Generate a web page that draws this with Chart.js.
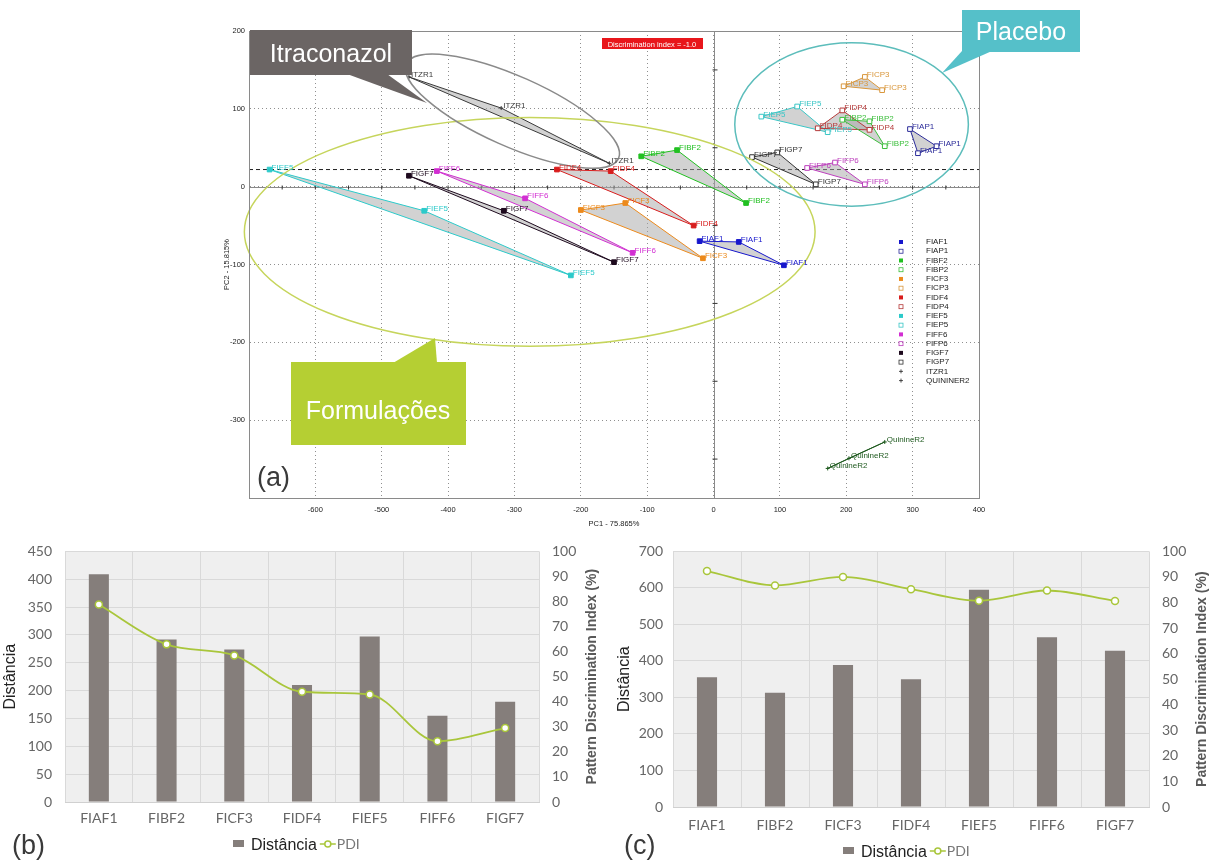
<!DOCTYPE html>
<html>
<head>
<meta charset="utf-8">
<script src="https://cdn.jsdelivr.net/npm/chart.js@4.4.1/dist/chart.umd.min.js"></script>
<style>
  body { margin: 0; background: #fff; width: 1219px; height: 861px; position: relative; overflow: hidden;
         font-family: "Liberation Sans", Arial, sans-serif; }
  canvas { position: absolute; }
  #pca { left: 200px; top: 0; }
  #distB { left: 0; top: 530px; }
  #distC { left: 610px; top: 530px; }
  #callouts { position: absolute; left: 0; top: 0; }
  .panel { position: absolute; font-size: 27px; line-height: 27px; color: #3a3a3a; }
</style>
</head>
<body>
<canvas id="pca" width="800" height="530"></canvas>
<canvas id="distB" width="610" height="331"></canvas>
<canvas id="distC" width="609" height="331"></canvas>

<svg id="callouts" width="1219" height="530" font-family="Liberation Sans, Arial, sans-serif">
  <!-- Itraconazol -->
  <polygon points="347,74 387,74 427,103" fill="#6b6564"/>
  <rect x="250" y="30" width="162" height="45" fill="#6b6564"/>
  <text x="331" y="62" fill="#fff" font-size="25" text-anchor="middle">Itraconazol</text>
  <!-- Placebo -->
  <polygon points="962,51 992,51 942,73" fill="#55c0c9"/>
  <rect x="962" y="10" width="118" height="42" fill="#55c0c9"/>
  <text x="1021" y="40" fill="#fff" font-size="25" text-anchor="middle">Placebo</text>
  <!-- Formulações -->
  <polygon points="393,363 437,363 435,338" fill="#b5cf33"/>
  <rect x="291" y="362" width="175" height="83" fill="#b5cf33"/>
  <text x="378" y="419" fill="#fff" font-size="25" text-anchor="middle">Formulações</text>
  <!-- discrimination index tag -->
  <rect x="602" y="38" width="101" height="11" fill="#e8161b"/>
  <text x="652" y="46.5" fill="#fff" font-size="7.5" text-anchor="middle">Discrimination index = -1.0</text>
</svg>

<div class="panel" style="left:257px;top:464px">(a)</div>
<div class="panel" style="left:12px;top:832px">(b)</div>
<div class="panel" style="left:624px;top:832px">(c)</div>

<script>
// ---------- (a) PCA scores ----------
const seriesNames = ['FIAF1', 'FIAP1', 'FIBF2', 'FIBP2', 'FICF3', 'FICP3', 'FIDF4', 'FIDP4',
                     'FIEF5', 'FIEP5', 'FIFF6', 'FIFP6', 'FIGF7', 'FIGP7', 'ITZR1', 'QUININER2'];
const pointNames = ['FIAF1', 'FIAP1', 'FIBF2', 'FIBP2', 'FICF3', 'FICP3', 'FIDF4', 'FIDP4',
                    'FIEF5', 'FIEP5', 'FIFF6', 'FIFP6', 'FIGF7', 'FIGP7', 'ITZR1', 'QuinineR2'];
const pc1Values = [
    [-21, 38, 106], [296, 336, 308], [-109, -55, 49], [194, 235, 258],
    [-200, -133, -16], [196, 228, 254], [-236, -155, -30], [157, 194, 235],
    [-669, -436, -215], [72, 126, 172], [-417, -284, -122], [141, 183, 228],
    [-459, -316, -150], [58, 96, 154], [-459, -320, -157], [258, 204, 172]
];
const pc2Values = [
    [-70, -71, -101], [74, 52, 43], [39, 47, -21], [86, 84, 52],
    [-30, -21, -92], [129, 141, 124], [22, 20, -50], [75, 98, 73],
    [22, -31, -114], [90, 103, 70], [20, -15, -85], [24, 31, 3],
    [14, -31, -97], [38, 44, 3], [141, 101, 30], [-328, -349, -362]
];
const seriesColors = ['#1616cc', '#2b2b99', '#22c022', '#3cbf3c', '#ec8a1c', '#d9973c', '#d81c1c', '#b53a3a',
                      '#2ccaca', '#3ac6c6', '#d22ed2', '#bd3fbd', '#1e0a1e', '#333333', '#3a3a3a', '#1f5a1f'];
const discriminationLine = 22;

// ---------- (b) and (c) ----------
const formulations = ['FIAF1', 'FIBF2', 'FICF3', 'FIDF4', 'FIEF5', 'FIFF6', 'FIGF7'];
const distanceB = [409, 292, 274, 210, 297, 155, 180];
const pdiB = [78.8, 62.9, 58.5, 44, 42.9, 24.2, 29.5];
const distanceC = [355, 313, 389, 350, 595, 465, 428];
const pdiC = [92.3, 86.7, 90, 85.2, 80.7, 84.7, 80.6];

function markerKind(name) {
    if (!name.startsWith('FI')) return 'cross';
    return name[3] === 'P' ? 'open' : 'filled';
}

const pcaDatasets = seriesNames.map((name, i) => {
    const pts = pc1Values[i].map((x, j) => ({ x: x, y: pc2Values[i][j] }));
    pts.push(pts[0]);
    const kind = markerKind(name);
    const color = seriesColors[i];
    return {
        label: name,
        data: pts,
        showLine: true,
        borderColor: color,
        borderWidth: 1,
        pointStyle: kind === 'cross' ? 'cross' : 'rect',
        pointRadius: ctx => ctx.dataIndex === 3 ? 0 : (kind === 'cross' ? 2 : 3.3),
        pointBorderWidth: 1,
        pointBorderColor: color,
        pointBackgroundColor: kind === 'open' ? '#ffffff' : color,
        backgroundColor: color,
        fill: false
    };
});

const ellipses = [
    { cx: -277, cy: -58, rx: 430, ry: 147, angle: 0, color: '#c6d55c' },
    { cx: 208, cy: 80, rx: 176, ry: 105, angle: 0, color: '#5cbdbb' },
    { cx: -303, cy: 97, rx: 175, ry: 45, angle: 24, color: '#8a8a8a' }
];

const pcaDecor = {
    id: 'pcaDecor',
    beforeDatasetsDraw(chart) {
        const { ctx, chartArea: a, scales: { x, y } } = chart;
        ctx.save();
        const x0 = Math.round(x.getPixelForValue(0)) + 0.5;
        const y0 = Math.round(y.getPixelForValue(0)) + 0.5;
        ctx.strokeStyle = '#8a8a8a';
        ctx.lineWidth = 1;
        ctx.beginPath();
        ctx.moveTo(x0, a.top); ctx.lineTo(x0, a.bottom);
        ctx.moveTo(a.left, y0); ctx.lineTo(a.right, y0);
        ctx.stroke();
        // small ticks on the zero axes
        ctx.strokeStyle = '#333';
        ctx.beginPath();
        for (let v = -350; v <= 150; v += 100) {
            const py = y.getPixelForValue(v);
            ctx.moveTo(x0 - 2, py); ctx.lineTo(x0 + 3, py);
        }
        for (let v = -650; v <= 350; v += 50) {
            if (v === 0) continue;
            const px = x.getPixelForValue(v);
            ctx.moveTo(px, y0 - 2); ctx.lineTo(px, y0 + 2);
        }
        ctx.stroke();
        // threshold line
        const yd = y.getPixelForValue(discriminationLine);
        ctx.setLineDash([4, 3]);
        ctx.strokeStyle = '#222';
        ctx.beginPath();
        ctx.moveTo(a.left, yd); ctx.lineTo(a.right, yd);
        ctx.stroke();
        ctx.setLineDash([]);
        // triangle fills
        chart.data.datasets.forEach((ds, i) => {
            const pts = chart.getDatasetMeta(i).data.slice(0, 3);
            ctx.beginPath();
            pts.forEach((p, k) => k ? ctx.lineTo(p.x, p.y) : ctx.moveTo(p.x, p.y));
            ctx.closePath();
            ctx.fillStyle = 'rgba(165,165,165,0.5)';
            ctx.fill();
        });
        ctx.restore();
    },
    afterDatasetsDraw(chart) {
        const { ctx, chartArea: a, scales: { x, y } } = chart;
        ctx.save();
        // group ellipses
        ellipses.forEach(e => {
            const cx = x.getPixelForValue(e.cx), cy = y.getPixelForValue(e.cy);
            const rx = Math.abs(x.getPixelForValue(e.cx + e.rx) - cx);
            const ry = Math.abs(y.getPixelForValue(e.cy + e.ry) - cy);
            ctx.beginPath();
            ctx.ellipse(cx, cy, rx, ry, e.angle * Math.PI / 180, 0, Math.PI * 2);
            ctx.strokeStyle = e.color;
            ctx.lineWidth = 1.5;
            ctx.stroke();
        });
        // point labels
        ctx.font = '8px "Liberation Sans", Arial, sans-serif';
        ctx.textAlign = 'left';
        ctx.textBaseline = 'alphabetic';
        chart.data.datasets.forEach((ds, i) => {
            ctx.fillStyle = seriesColors[i];
            chart.getDatasetMeta(i).data.slice(0, 3).forEach(p => {
                ctx.fillText(pointNames[i], p.x + 2, p.y);
            });
        });
        // frame
        ctx.strokeStyle = '#8a8a8a';
        ctx.lineWidth = 1;
        ctx.strokeRect(Math.round(a.left) + 0.5, Math.round(a.top) + 0.5,
                       Math.round(a.width), Math.round(a.height));
        // legend
        const lx = a.right - 78, ly = a.top + 211, step = 9.24;
        ctx.textBaseline = 'middle';
        ctx.font = '8px "Liberation Sans", Arial, sans-serif';
        chart.data.datasets.forEach((ds, i) => {
            const yy = ly + i * step;
            const kind = markerKind(ds.label);
            const c = seriesColors[i];
            if (kind === 'filled') {
                ctx.fillStyle = c;
                ctx.fillRect(lx - 2, yy - 2, 4, 4);
            } else if (kind === 'open') {
                ctx.strokeStyle = c;
                ctx.lineWidth = 0.8;
                ctx.strokeRect(lx - 2, yy - 2, 4, 4);
            } else {
                ctx.strokeStyle = '#222';
                ctx.lineWidth = 0.8;
                ctx.beginPath();
                ctx.moveTo(lx - 2, yy); ctx.lineTo(lx + 2, yy);
                ctx.moveTo(lx, yy - 2); ctx.lineTo(lx, yy + 2);
                ctx.stroke();
            }
            ctx.fillStyle = '#222';
            ctx.fillText(ds.label, lx + 25, yy);
        });
        ctx.restore();
    }
};

const smallFont = { family: '"Liberation Sans", Arial, sans-serif', size: 7.5 };

new Chart(document.getElementById('pca'), {
    type: 'scatter',
    data: { datasets: pcaDatasets },
    options: {
        responsive: false,
        animation: false,
        layout: { padding: { left: 15, right: 21, top: 31, bottom: 0 } },
        plugins: { legend: { display: false }, tooltip: { enabled: false } },
        scales: {
            x: {
                type: 'linear', min: -700, max: 400,
                ticks: { stepSize: 100, autoSkip: false, maxRotation: 0, padding: 7, color: '#222', font: smallFont,
                         callback: v => v === -700 ? '' : v },
                grid: { color: '#8f8f8f', drawTicks: false },
                border: { color: '#8a8a8a', dash: [1, 3] },
                title: { display: true, text: 'PC1 - 75.865%', color: '#222', font: smallFont,
                         padding: { top: 0, bottom: 2 } },
                afterFit: s => { s.height = 32; }
            },
            y: {
                type: 'linear', min: -400, max: 200,
                ticks: { stepSize: 100, padding: 4, color: '#222', font: smallFont,
                         callback: v => v === -400 ? '' : v },
                grid: { color: '#8f8f8f', drawTicks: false },
                border: { color: '#8a8a8a', dash: [1, 3] },
                title: { display: true, text: 'PC2 - 15.815%', color: '#222', font: smallFont,
                         padding: { top: 7, bottom: 0 } },
                afterFit: s => { s.width = 34; }
            }
        }
    },
    plugins: [pcaDecor]
});

// ---------- bar + line panels ----------
const tickFont = { family: 'Lato, "Open Sans", sans-serif', size: 14 };
const barColor = '#857e7b';
const pdiColor = '#a9c63b';

function distancePanel(canvasId, distances, pdis, yMax, geo) {
    const decor = {
        id: 'panelDecor' + canvasId,
        beforeDraw(chart) {
            const { ctx, chartArea: a } = chart;
            ctx.save();
            ctx.fillStyle = '#efefef';
            ctx.fillRect(a.left, a.top, a.width, a.height);
            ctx.restore();
        },
        afterDraw(chart) {
            const { ctx, chartArea: a } = chart;
            ctx.save();
            // right axis title
            ctx.translate(geo.rightTitleX, (a.top + a.bottom) / 2);
            ctx.rotate(-Math.PI / 2);
            ctx.font = 'bold 14px "Liberation Sans", Arial, sans-serif';
            ctx.fillStyle = '#595959';
            ctx.textAlign = 'center';
            ctx.textBaseline = 'middle';
            ctx.fillText('Pattern Discrimination Index (%)', 0, 0);
            ctx.restore();
            // legend
            ctx.save();
            const lx = geo.legendX, ly = geo.legendY;
            ctx.fillStyle = barColor;
            ctx.fillRect(lx, ly - 4, 11, 7);
            ctx.font = '16px "Liberation Sans", Arial, sans-serif';
            ctx.fillStyle = '#222';
            ctx.textBaseline = 'middle';
            ctx.fillText('Distância', lx + 18, ly + 2);
            const mx = lx + 18 + ctx.measureText('Distância').width + 3;
            ctx.strokeStyle = pdiColor;
            ctx.lineWidth = 1.5;
            ctx.beginPath();
            ctx.moveTo(mx, ly); ctx.lineTo(mx + 16, ly);
            ctx.stroke();
            ctx.beginPath();
            ctx.arc(mx + 8, ly, 3, 0, Math.PI * 2);
            ctx.fillStyle = '#fff';
            ctx.fill();
            ctx.stroke();
            ctx.font = '14px Lato, "Open Sans", sans-serif';
            ctx.fillStyle = '#777';
            ctx.fillText('PDI', mx + 17, ly);
            ctx.restore();
        }
    };

    new Chart(document.getElementById(canvasId), {
        type: 'bar',
        data: {
            labels: formulations,
            datasets: [
                {
                    type: 'line', label: 'PDI', data: pdis, yAxisID: 'y1', order: 0,
                    borderColor: pdiColor, borderWidth: 1.8, cubicInterpolationMode: 'monotone',
                    pointRadius: 3.5, pointBorderWidth: 1.5, pointBackgroundColor: '#fff',
                    pointBorderColor: pdiColor, fill: false
                },
                {
                    type: 'bar', label: 'Distância', data: distances, yAxisID: 'y', order: 1,
                    backgroundColor: barColor, categoryPercentage: 0.8, barPercentage: 0.37
                }
            ]
        },
        options: {
            responsive: false,
            animation: false,
            layout: { padding: { left: 0, right: 0, top: geo.top, bottom: 0 } },
            plugins: { legend: { display: false }, tooltip: { enabled: false } },
            scales: {
                x: {
                    ticks: { color: '#666', font: tickFont, padding: geo.xPad },
                    grid: { color: '#d9d9d9', drawTicks: false },
                    border: { color: '#d0d0d0' },
                    afterFit: s => { s.height = geo.xHeight; }
                },
                y: {
                    position: 'left', min: 0, max: yMax,
                    ticks: { stepSize: yMax === 450 ? 50 : 100, color: '#666', font: tickFont, padding: geo.yPad },
                    grid: { color: '#d9d9d9', drawTicks: false },
                    border: { display: false },
                    title: { display: true, text: 'Distância', color: '#222',
                             font: { family: '"Liberation Sans", Arial, sans-serif', size: 16 },
                             padding: { top: geo.titlePad, bottom: 0 } },
                    afterFit: s => { s.width = geo.yWidth; }
                },
                y1: {
                    position: 'right', min: 0, max: 100,
                    ticks: { stepSize: 10, color: '#666', font: tickFont, padding: 13 },
                    grid: { display: false, drawTicks: false },
                    border: { display: false },
                    afterFit: s => { s.width = geo.y1Width; }
                }
            }
        },
        plugins: [decor]
    });
}

distancePanel('distB', distanceB, pdiB, 450, {
    top: 20, xHeight: 59, yWidth: 65, y1Width: 71, xPad: 8, yPad: 13, titlePad: 1,
    rightTitleX: 592, legendX: 233, legendY: 314
});
distancePanel('distC', distanceC, pdiC, 700, {
    top: 19, xHeight: 54, yWidth: 63, y1Width: 70, xPad: 10, yPad: 10, titlePad: 5,
    rightTitleX: 592, legendX: 233, legendY: 321
});
</script>
</body>
</html>
